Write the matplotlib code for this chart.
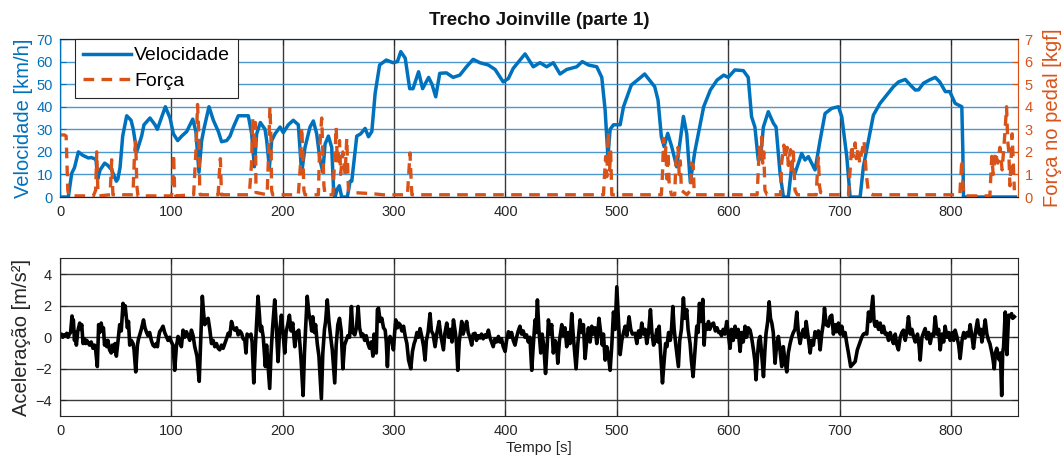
import matplotlib
matplotlib.use("Agg")
import matplotlib.pyplot as plt

plt.rcParams['font.family'] = ['Liberation Sans', 'DejaVu Sans']

BLUE = '#0072BD'
ORANGE = '#D95319'
DARK = '#262626'

title = "Trecho Joinville (parte 1)"
xticks = [0, 100, 200, 300, 400, 500, 600, 700, 800]
vticks = [0, 10, 20, 30, 40, 50, 60, 70]
fticks = [0, 1, 2, 3, 4, 5, 6, 7]
aticks = [-4, -2, 0, 2, 4]

# Velocity [km/h]
vel_t = [0, 7.5, 10.5, 13, 16.5, 20.4, 25.4, 28, 30.7, 32.3, 33.8, 36, 40.1, 43, 46.4, 50.6, 52, 53.9,
         56.3, 59.9, 63.8, 65.8, 68.9, 73.3, 75.4, 80.8, 85.3, 87.4, 94.6, 98.8, 101.8, 105.7, 109.3,
         113.8, 119.2, 122, 124.8, 127.2, 129.6, 133.8, 137.7, 142.2, 145.1, 149.7, 152.7, 155.7, 160.1,
         169.1, 172.1, 174.5, 176.6, 179.9, 184.1, 185.6, 188, 190.1, 193.1, 197.6, 200.5, 205, 209.5,
         214, 217, 220, 224.5, 227.5, 230.5, 233.5, 236, 238, 241, 244, 245.5, 247, 249, 250.8, 253, 258,
         260.5, 262, 266.5, 270, 274, 277, 280, 283, 287, 293, 299, 303, 306, 310, 314, 317, 322, 325.6,
         331, 334, 337.4, 341, 347, 353, 359, 365, 371, 377, 384.6, 390.7, 398, 402.6, 407, 417.6, 425,
         431, 437, 443, 449, 455, 464, 469, 474.5, 482, 486.5, 489.5, 492, 494, 497, 503, 506, 513, 519,
         525, 534, 537, 540, 542.5, 545.7, 549.3, 553.8, 559.8, 562.8, 566, 570, 572, 578, 584, 590, 596,
         600, 606, 613.6, 618, 621, 624, 627, 629, 631.6, 636, 640.6, 643, 646.6, 649.6, 654, 657, 660,
         666, 669, 672, 675, 678, 682.5, 687, 693, 699, 702, 706.5, 709.5, 718.5, 721.4, 726, 730.4,
         736.4, 742.4, 748.4, 753, 759, 763.4, 768, 771, 775.3, 781.3, 786, 790, 795, 799, 803.8, 809.8,
         810.7, 811.3, 858]
vel_v = [0, 0, 10.5, 13, 20, 18.5, 17.3, 17.5, 17, 17, 8, 12, 15, 14, 12, 7, 8, 13,
         27, 36, 34, 30, 20, 27, 32, 35, 32, 30, 40, 35, 28, 25, 27,
         29, 34.5, 29, 11, 25, 31, 40, 34, 29, 24.5, 25, 27, 31, 36,
         36, 28, 13.4, 28, 33, 30, 25, 13, 25, 28, 31, 28.5, 32, 34,
         32, 10.5, 22, 31, 33.7, 28, 16.4, 11, 23.4, 27, 22, 5, 0, 3.5, 5, 0, 0,
         7, 7, 27, 28, 30.4, 26.7, 29, 46, 58.5, 60.7, 59.5, 60, 64.4, 61.5, 48, 48, 55.5, 48,
         53, 50, 44.4, 54.8, 55, 53, 54, 57.7, 61, 59.5, 58.5, 56.5, 51, 52.5, 57, 63.4, 57.7,
         59.5, 57.7, 59.5, 54.5, 56.5, 57.7, 60, 58.5, 57.7, 53, 38.6, 17.9, 30, 32, 32, 40, 49.6, 52,
         54.5, 48.9, 43, 26.7, 22.3, 28.2, 22.3, 13.4, 35.7, 28, 6.5, 20, 25, 40, 47.4, 51.8, 54,
         53, 56.3, 56, 53, 35.6, 31, 16.4, 17, 31, 37.8, 32.7, 31, 10.5, 0, 0, 13.4, 10.5,
         19.3, 16.4, 17.9, 15, 12, 25, 37, 39.3, 40, 35.6, 17.9, 0, 0, 13.4, 25, 36.3,
         41.5, 45.2, 48.9, 51, 52.1, 49.7, 47.4, 47.5, 50.4, 52, 53, 51, 46.7, 46.7, 41.5, 40,
         20.8, 0, 0]

# Pedal force [kgf]
force_t = [0, 4, 5.5, 7, 8, 30, 32, 33, 34, 35, 45, 46.4, 47.5, 60, 65.5, 67, 68, 69, 70, 100, 101, 102,
           103, 104, 120, 122, 123.5, 124.5, 125.5, 126, 142, 143, 144, 145, 170, 172, 173, 174, 175.5,
           176, 186, 187, 188.5, 189.5, 190, 191, 214, 216, 217, 218, 219, 220, 232, 233, 235, 236, 237,
           238, 245, 247, 248, 249, 251, 252, 254, 256, 257.5, 259, 262, 280, 290, 312, 313, 314.3,
           315.5, 316, 488, 489, 490, 491, 492.4, 493.5, 494.5, 495.5, 540, 541, 542, 543, 544, 545, 546,
           547, 549, 552, 553, 555, 556, 557, 558, 563, 566, 567, 568.6, 569.5, 571, 626, 627, 628, 629,
           630, 631, 632, 633, 635, 647, 648, 650, 651, 653, 654, 656, 657, 658.5, 660, 662, 679, 680,
           681, 682, 683, 690, 708, 709.5, 711, 712, 714, 715, 717, 718, 720, 722, 724, 726, 730, 808,
           809.8, 811, 812, 835, 836.7, 838, 840, 842, 844, 846, 848, 850, 851, 852, 853, 855, 857]
force_v = [2.75, 2.75, 2.7, 0.3, 0.05, 0.05, 0.3, 2.0, 0.3, 0.05, 0.1, 1.65, 0.1, 0.1, 0.1, 2.0, 2.45, 0.5,
           0.05, 0.05, 0.3, 1.9, 0.2, 0.05, 0.1, 2.0, 4.1, 3.0, 0.3, 0.1, 0.1, 1.0, 1.7, 0.1, 0.1, 1.5,
           3.5, 2.5, 3.3, 0.2, 0.1, 1.5, 4.0, 2.5, 0.3, 0.1, 0.1, 1.5, 3.1, 2.0, 0.3, 0.1, 0.1, 2.0, 3.5,
           2.0, 0.5, 0.1, 0.1, 2.0, 3.1, 1.5, 2.5, 1.0, 2.0, 1.0, 2.6, 0.3, 0.2, 0.15, 0.1, 0.1, 0.9,
           1.95, 0.5, 0.1, 0.1, 1.0, 1.8, 0.9, 2.9, 1.2, 2.0, 0.1, 0.1, 1.0, 2.6, 1.5, 2.2, 0.8, 2.0,
           0.6, 0.1, 0.1, 1.5, 2.2, 1.0, 1.6, 0.3, 0.1, 0.3, 1.5, 1.4, 0.2, 0.1, 0.1, 1.2, 2.2, 1.6,
           2.65, 1.5, 2.0, 0.3, 0.1, 0.1, 1.5, 2.3, 1.7, 2.2, 1.4, 2.1, 1.0, 2.0, 0.3, 0.1, 0.1, 1.0,
           1.75, 0.5, 0.2, 0.1, 0.1, 1.2, 2.3, 1.8, 2.4, 1.7, 2.2, 1.5, 2.0, 2.5, 1.0, 0.2, 0.1, 0.1,
           1.65, 0.4, 0.05, 0.05, 1.8, 1.0, 2.0, 1.5, 2.2, 1.2, 2.5, 4.0, 2.5, 2.0, 0.5, 2.8, 0.3]

# Acceleration [m/s^2] (10 values per line in both lists)
acc_t = [0, 1.2, 2.4, 3.6, 4.8, 6, 7.2, 8.4, 9.5, 10.8,
         11.5, 12, 13, 13.8, 14.7, 16, 17.7, 18.5, 19.5, 20.7,
         22, 23, 24, 25, 26.5, 28, 29.6, 31, 32, 33.5,
         34.7, 35.5, 37, 38, 39, 40, 41, 42, 43, 44.5,
         46, 47, 48.5, 49.5, 50.6, 52, 53.6, 55, 56.6, 57.5,
         58.5, 59.6, 60.5, 61.5, 62.6, 64, 65.6, 66.5, 68, 69.5,
         70.5, 71.6, 73, 75, 76.3, 77.5, 79, 80.5, 82, 83.5,
         85, 86.5, 87.5, 88.5, 89.5, 91, 92.5, 94, 95.5, 97,
         98.5, 100, 101.5, 103, 104.5, 106, 107.5, 109, 110.5, 112,
         113.5, 115, 116.5, 118, 119.5, 121, 123, 125, 126.5, 127.8,
         129, 130, 131.5, 133, 134.5, 136, 137.5, 139, 140.5, 142,
         143.4, 145, 146.5, 148, 149.5, 151, 152.5, 154, 155.5, 157,
         158.5, 160, 161.5, 163, 164.5, 166, 167, 168, 170, 171.5,
         172.5, 174, 175.5, 177.8, 179, 180, 181, 182.5, 184.4, 185.5,
         186.5, 188.3, 189.5, 190.8, 192.8, 194, 195.8, 197, 198.8, 200,
         201.8, 203, 204.5, 206, 207.5, 209, 210.8, 212.5, 214.4, 215.5,
         216.5, 218.3, 219.5, 220.5, 222, 223.5, 225, 226, 227, 228.5,
         229.5, 231, 232.5, 234.7, 236, 237.5, 238.5, 240, 241.5, 243,
         244.5, 246.7, 248, 249.5, 251, 252.5, 254, 255.5, 257, 258.5,
         260, 261.7, 263, 264.7, 266.2, 267.7, 269, 270.7, 272, 273.6,
         275, 276.5, 278, 279.5, 281, 282, 283, 284, 285, 286,
         287.5, 289, 290.5, 292, 293, 294, 295, 296.4, 298, 299.4,
         300.5, 301.5, 303, 304, 305.4, 307, 308.5, 310, 311.5, 313,
         315, 316.5, 318, 319, 320.5, 322, 323.3, 325, 326.5, 327.8,
         329, 330.5, 332.3, 333.5, 335, 336.8, 338.5, 340.4, 342, 344.3,
         345.5, 347.3, 349, 350.5, 352, 353.3, 355, 356, 357.2, 358.5,
         360.7, 362, 363.5, 365.2, 366.5, 368, 369.7, 371, 372.7, 374,
         375.5, 377.2, 378.5, 380, 381.7, 383, 384.7, 386, 387.5, 389,
         390.5, 392, 393.7, 395, 396.5, 398, 399.7, 401, 402.7, 404,
         405.5, 407, 408.6, 410, 411.5, 413, 414.5, 416, 417.5, 419,
         420.5, 422, 423.6, 425, 426.6, 427.5, 428.7, 430, 431.7, 433,
         434.5, 436, 437.5, 438.6, 440, 441.5, 443, 444.5, 446, 447,
         448.5, 450.6, 452, 453.5, 455, 456.5, 458, 459.5, 461, 463.4,
         465, 467, 468.5, 470, 471.5, 473, 474.5, 476, 477.5, 479,
         480.5, 482, 484, 485.5, 487, 488, 489.5, 491, 492.5, 494,
         495.5, 497, 498.5, 500, 501.5, 503, 504.5, 506, 507.5, 509,
         511, 512.5, 514, 516.4, 518, 519.5, 521, 522.4, 524, 525.5,
         526.9, 528.5, 530.2, 531.5, 533, 534.4, 536, 537, 538, 539.5,
         541, 542.5, 543.8, 545, 546.5, 548, 549.2, 550.3, 551.5, 553,
         555.3, 556.5, 558, 559.8, 561, 562.8, 564, 565.8, 567, 568.5,
         570, 571.8, 573, 574.2, 575.5, 577.2, 578.4, 579.5, 581, 582.3,
         583.5, 585, 586.8, 588.5, 590, 591.5, 592.7, 594, 595.5, 597,
         598.7, 600, 601.7, 603, 604.5, 606.2, 607.5, 609, 610.7, 612,
         613.5, 615.2, 616.5, 618, 619.7, 621, 622.7, 624, 625, 626.5,
         627.5, 628.7, 630, 631.7, 633, 634, 635.5, 636.8, 638, 639.2,
         640.5, 642.1, 643.5, 645.1, 646.5, 648.1, 649.5, 651, 652.6, 654,
         655.6, 657, 658.5, 660, 661.6, 663, 664.6, 666, 667.5, 669,
         670, 671.5, 673.6, 675, 676.5, 678, 679.5, 681, 682.6, 684,
         685.5, 686.5, 688, 690, 691.5, 693, 694.5, 696, 697.5, 699,
         700.5, 702, 703.5, 705, 706.5, 708, 710, 712, 714, 716,
         718.5, 720, 721.5, 723, 724.5, 726, 727.5, 729.9, 731, 732,
         733.5, 735, 736.5, 738, 739.5, 741, 742.4, 744, 745.5, 747,
         748.4, 750, 751.5, 752.9, 754.5, 756, 757.4, 759, 760.5, 761.9,
         763.5, 765, 766.4, 768, 770, 771.5, 772.4, 774, 775.5, 776.9,
         778.5, 780, 781.4, 783, 784.5, 785.9, 787.5, 789, 790.4, 792,
         793.5, 794.8, 796.5, 798, 799.3, 801, 802.5, 803.8, 805.5, 807,
         808.3, 810, 811.5, 812.8, 814.5, 816, 817.3, 819, 820.3, 822,
         823.9, 825.5, 827, 827.8, 829.5, 830.8, 832.3, 833.8, 835, 836.8,
         838, 838.9, 840, 841.2, 842.5, 843.6, 844.5, 845.6, 846.5, 847.3,
         848.8, 849.5, 850.3, 851.8, 853, 854.5, 855.5, 857]
acc_v = [0.1, 0.2, 0.0, 0.15, 0.1, 0.25, 0.0, 0.2, 0.3, 1.35,
         0.9, 1.1, -0.2, 0.3, -0.5, 0.4, 0.9, 0.5, 0.8, -0.4,
         -0.1, -0.4, -0.2, -0.3, -0.5, -0.3, -0.7, -0.5, -0.8, -1.86,
         0.8, 0.3, 0.9, 0.4, 0.6, -0.5, -0.2, -0.6, -0.2, -0.8,
         -1.0, -0.5, -0.9, -0.4, -1.2, -0.3, 0.8, 0.4, 2.15, 1.5,
         2.0, 1.2, 0.6, 1.0, -0.5, -0.2, -0.4, -0.8, -2.2, -0.5,
         -0.1, 0.15, 0.5, 1.1, 0.6, 0.35, 0.1, 0.3, -0.2, -0.5,
         -0.6, -0.4, -0.6, 0.0, 0.35, 0.5, 0.7, 0.3, 0.05, -0.2,
         0.0, -0.3, -0.5, -2.1, -0.6, 0.05, -0.3, -0.6, 0.45, 0.0,
         0.35, 0.1, -0.2, 0.45, 0.1, -0.6, -1.2, -2.8, 0.0, 2.6,
         1.5, 0.8, 1.1, 1.2, 0.5, -0.4, -0.2, -0.6, -0.4, -0.7,
         -0.8, -0.5, -0.7, -0.4, -0.1, 0.25, 0.1, 1.0, 0.6, 0.45,
         0.6, 0.15, 0.4, 0.25, -0.1, -0.2, -1.0, 0.2, 0.05, 0.2,
         -0.3, -2.9, -0.5, 2.6, 1.5, 0.4, 0.7, 0.0, -1.86, -0.5,
         -1.5, -3.25, -1.0, 0.5, 2.37, 1.0, -1.55, 0.2, 1.4, 0.5,
         -1.0, 0.3, 0.8, 1.4, 0.4, 0.9, -0.6, 0.3, 0.45, -0.5,
         -1.5, -3.7, -1.0, 0.5, 2.6, 1.5, 1.0, 0.4, 1.3, 0.3,
         0.8, -0.4, -1.2, -3.9, -1.0, 0.5, 1.0, 2.37, 1.0, 0.05,
         -0.8, -2.9, -0.5, 0.8, 1.2, 0.4, -2.0, -0.5, -0.2, 0.1,
         0.0, 1.95, 0.3, 0.15, 0.6, 1.95, 0.6, 0.05, 0.2, -0.2,
         0.1, -0.4, -0.7, -0.3, -1.2, 0.2, -0.2, -1.0, 1.75, 1.85,
         1.0, 1.2, 0.6, 0.45, -0.3, -1.86, -0.2, 0.05, -0.3, -0.8,
         0.3, 1.1, 0.6, 0.9, 0.8, 0.4, 0.7, 0.05, -0.4, -1.45,
         -2.0, -0.9, -0.4, -0.2, 0.3, 0.0, 0.55, 0.0, -0.6, -1.45,
         -0.2, 0.3, 1.5, 0.4, 0.2, -0.6, 0.3, 1.0, 0.1, -0.8,
         0.2, 0.9, 0.0, 0.5, -0.3, 1.1, 0.3, -0.4, -2.1, -0.3,
         1.0, 0.2, 0.6, 1.0, 0.3, 0.0, -0.5, 0.2, 0.25, -0.2,
         0.1, -0.05, 0.2, -0.1, 0.15, 0.0, 0.45, 0.0, -0.3, -0.6,
         -0.1, -0.3, 0.05, -0.3, -0.1, -0.6, -0.9, -0.2, 0.35, 0.0,
         0.3, -0.2, -0.5, 0.0, 0.4, 0.7, 0.2, 0.4, 0.0, 0.15,
         -0.3, 0.0, -2.1, -0.5, 1.1, 0.3, 2.37, 0.5, -1.0, 0.2,
         -0.6, -2.3, -0.5, 1.1, 0.2, 0.8, -1.0, -0.2, -0.5, -1.65,
         -0.2, 0.8, 0.1, 0.6, -0.6, 0.3, -0.4, 1.5, 0.0, -2.0,
         -0.4, 1.1, 0.3, 0.8, -1.35, -0.2, 0.6, -0.3, 0.7, 0.2,
         0.6, -0.4, 1.2, 0.3, -0.5, 0.2, -1.45, -0.6, -1.2, -2.1,
         -0.5, 1.6, 0.5, 3.2, 1.0, -1.1, -0.2, 0.3, 0.7, 0.1,
         1.3, 0.5, 0.2, 0.25, -0.4, 0.4, 0.0, 0.9, 0.2, 0.5,
         -0.4, 0.3, 1.75, 0.3, -0.5, -0.2, 0.5, -0.3, 0.7, -1.2,
         -2.9, -1.5, -0.4, -0.6, 0.3, -0.2, 0.6, 1.95, 0.5, -0.5,
         -1.86, -0.2, 0.5, 2.5, 1.2, 1.75, 0.5, -0.4, -1.5, -2.5,
         -1.0, 0.7, 0.3, 2.15, 1.0, 2.4, -0.5, 0.8, 0.5, 1.0,
         0.5, 0.8, 0.9, 0.4, 0.6, 0.3, 0.35, 0.1, 0.5, 0.2,
         1.0, 0.3, -0.7, 0.5, -0.2, 0.7, 0.0, 0.5, -0.9, 0.3,
         -0.3, 0.7, 0.0, 0.6, 0.45, 0.0, -0.8, -1.5, -2.7, -1.0,
         -0.2, 0.05, -1.0, -2.5, -0.8, 0.25, 1.0, 2.25, 1.2, 0.9,
         0.3, -1.65, -0.5, 0.05, -0.8, -1.86, -0.6, -1.5, -2.2, -1.0,
         -0.4, 0.0, 0.3, 0.5, 1.6, 0.3, -0.4, 0.2, 0.5, 0.0,
         1.0, 0.2, -1.0, -0.2, -0.5, 0.35, 0.0, 0.4, -0.8, 0.2,
         0.9, 1.85, 0.8, 0.7, 1.3, 1.4, 0.2, 0.8, 0.35, 0.9,
         0.2, 0.7, 0.1, 0.3, -0.4, -1.0, -1.86, -1.7, -1.55, -0.8,
         -0.3, 0.0, 0.2, 0.25, 0.2, 1.6, 1.0, 2.6, 1.0, 0.7,
         1.0, 0.5, 0.9, 0.3, 0.7, 0.2, 0.25, -0.2, 0.3, -0.1,
         -0.4, 0.2, -0.5, -0.8, 0.0, 0.3, 0.45, -0.2, 0.4, 1.3,
         0.2, 0.5, 0.05, -0.3, 0.2, -0.6, -1.45, 0.0, 0.3, 0.55,
         -0.1, 0.3, -0.4, 0.2, 0.1, 1.3, 0.2, 0.5, -0.8, 0.2,
         -0.3, 0.7, 0.0, 0.3, -0.2, 0.3, -0.2, 0.45, 0.0, -0.5,
         -1.35, -0.2, 0.3, -0.05, 0.3, 0.1, 0.8, 0.0, -0.7, 0.3,
         1.1, 0.2, 0.5, -0.3, 0.4, 1.1, 0.2, -0.2, -0.4, -1.0,
         -1.5, -2.0, -1.0, -0.7, -1.3, -1.45, -1.0, -3.7, -1.0, -0.6,
         1.6, 0.3, -1.1, 1.4, 1.3, 1.5, 1.2, 1.3]

fig = plt.figure(figsize=(10.62, 4.65), dpi=100)
ax1 = fig.add_axes([0.0565, 0.5763, 0.9018, 0.3398])
ax2 = ax1.twinx()
ax3 = fig.add_axes([0.0565, 0.1054, 0.9018, 0.3387])

# ---- top panel
lv, = ax1.plot(vel_t, vel_v, color=BLUE, lw=2.5, solid_joinstyle='round')
lf, = ax2.plot(force_t, force_v, color=ORANGE, lw=2.4, dashes=(3.2, 2.2))
ax1.set_xlim(0, 860)
ax1.set_ylim(0, 70)
ax2.set_ylim(0, 7)
ax1.set_xticks(xticks)
ax1.set_yticks(vticks)
ax2.set_yticks(fticks)
ax1.grid(axis='x', color='#3a3a3a', lw=1.0)
ax1.grid(axis='y', color='#2f86c8', lw=1.0, alpha=0.85)
ax1.set_axisbelow(True)
ax1.tick_params(axis='y', colors=BLUE, direction='in', length=4, labelsize=10.5, pad=5)
ax1.tick_params(axis='x', colors=DARK, direction='in', length=4, labelsize=10.5, pad=6, top=True)
ax2.tick_params(axis='y', colors=ORANGE, direction='in', length=4, labelsize=10.5, pad=5)
ax1.set_ylabel("Velocidade [km/h]", color=BLUE, fontsize=14.5, labelpad=3)
ax2.set_ylabel("Força no pedal [kgf]", color=ORANGE, fontsize=14.5, labelpad=7)
for a in (ax1, ax2):
    a.spines['left'].set_color(BLUE)
    a.spines['right'].set_color(ORANGE)
    a.spines['top'].set_color(DARK)
    a.spines['bottom'].set_color(DARK)
ax1.set_title(title, fontsize=13.5, fontweight='bold', pad=10, color='#111111')
leg = ax2.legend([lv, lf], ["Velocidade", "Força"], loc='upper left',
                 bbox_to_anchor=(0.0157, 1.0), borderaxespad=0, fontsize=14,
                 fancybox=False, framealpha=1, edgecolor=DARK, handlelength=2.5,
                 handletextpad=0.15, borderpad=0.4, labelspacing=0.4)
leg.get_frame().set_linewidth(0.8)

# ---- bottom panel
ax3.plot(acc_t, acc_v, color='black', lw=2.6)
ax3.set_xlim(0, 860)
ax3.set_ylim(-5, 5)
ax3.set_xticks(xticks)
ax3.set_yticks(aticks)
ax3.grid(True, color='#3a3a3a', lw=1.0)
ax3.set_axisbelow(True)
ax3.tick_params(colors=DARK, direction='in', length=4, labelsize=10.5, pad=6, top=True, right=True)
ax3.set_xlabel("Tempo [s]", fontsize=11, color=DARK, labelpad=2)
ax3.set_ylabel("Aceleração [m/s²]", fontsize=14.5, color=DARK, labelpad=3)
for s in ax3.spines.values():
    s.set_color(DARK)

fig.savefig("out.png", dpi=100)
